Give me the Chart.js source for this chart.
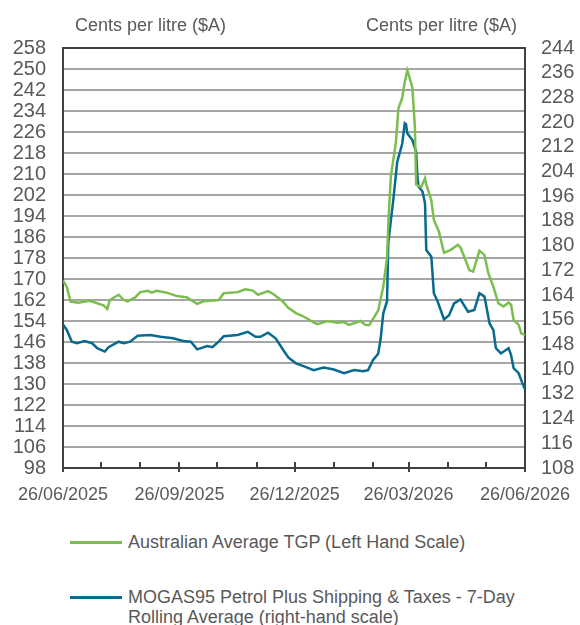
<!DOCTYPE html>
<html>
<head>
<meta charset="utf-8">
<script src="https://cdn.jsdelivr.net/npm/chart.js@4"></script>
<style>
  body { margin: 0; background: #fff; font-family: "Liberation Sans", Arial, sans-serif; color: #595959; }
  #wrap { position: relative; width: 580px; height: 625px; overflow: hidden; }
  #chart { position: absolute; left: 0; top: 0; }
  .unit { position: absolute; top: 15px; font-size: 18px; }
  .leg { position: absolute; left: 70px; font-size: 18px; line-height: 20px; }
  .leg .swatch { position: absolute; left: 0; top: 9px; width: 52px; height: 3px; }
  .leg .txt { margin-left: 58px; width: 420px; }
</style>
</head>
<body>
<div id="wrap">
  <canvas id="chart" width="580" height="520"></canvas>
  <div class="unit" style="left:75px">Cents per litre ($A)</div>
  <div class="unit" style="left:366px">Cents per litre ($A)</div>
  <div class="leg" style="top:532px"><div class="swatch" style="background:#7bbd4e"></div><div class="txt">Australian Average TGP (Left Hand Scale)</div></div>
  <div class="leg" style="top:587px"><div class="swatch" style="background:#086a8f"></div><div class="txt">MOGAS95 Petrol Plus Shipping &amp; Taxes - 7-Day Rolling Average (right-hand scale)</div></div>
</div>
<script>
document.addEventListener("DOMContentLoaded", function () {
  // days after 26/06/2025
  const tgpDays = [0, 3, 6, 12, 21, 32, 35, 37, 44, 48, 51, 57, 61, 67, 70, 74, 82, 90, 98, 106, 111, 123, 127, 138, 144, 150, 154, 162, 166, 173, 178, 184, 189, 198, 201, 209, 217, 222, 226, 235, 239, 242, 245, 249, 253, 256, 257, 259, 263, 265, 268, 270, 272, 273, 276, 278, 279, 283, 286, 287, 291, 293, 297, 301, 306, 312, 314, 317, 321, 324, 326, 329, 333, 336, 340, 344, 348, 352, 354, 356, 360, 362, 365]
  const tgpValues = [169.4, 167, 161.4, 161, 161.7, 160, 158.6, 162, 164, 162, 161.5, 163, 165, 165.5, 164.8, 165.5, 164.8, 163.5, 163, 160.5, 161.5, 162, 164.6, 165, 166.1, 165.6, 164, 165.4, 164.3, 161.7, 159, 157, 156, 153.5, 152.8, 154, 153.3, 153.6, 152.5, 154, 152.5, 152.5, 154.8, 158, 167, 178, 191, 209, 222, 235, 239, 245, 249.5, 248, 243, 228, 206, 205, 208.4, 206, 200, 192.5, 188, 180, 181, 183, 182, 178.5, 173.4, 172.8, 176, 180.8, 179.1, 172.2, 167.1, 160.7, 159.5, 161, 160.2, 154.4, 152.5, 149.3, 148.7]

  const mogasDays = [0, 3, 7, 11, 17, 23, 27, 33, 36, 44, 48, 53, 59, 69, 77, 87, 95, 101, 106, 114, 118, 123, 127, 138, 146, 152, 156, 162, 168, 174, 178, 184, 190, 198, 206, 214, 222, 230, 237, 241, 245, 249, 251, 253, 256, 257, 259, 261, 264, 268, 270, 271, 272, 276, 279, 280, 281, 284, 286, 287, 291, 293, 296, 301, 305, 309, 314, 320, 325, 329, 333, 337, 340, 342, 346, 352, 354, 356, 360, 363, 365]
  const mogasValues = [154.5, 152.7, 148.9, 148.4, 149.1, 148.4, 146.8, 145.7, 147.1, 148.9, 148.4, 148.9, 150.8, 151.1, 150.5, 150, 149.1, 148.9, 146.4, 147.5, 147.1, 148.9, 150.7, 151.1, 152.1, 150.5, 150.5, 151.8, 150, 146.2, 143.8, 141.9, 141, 139.7, 140.5, 139.9, 138.7, 139.7, 139.3, 139.7, 143, 145, 150, 158, 162, 181, 188, 195, 207, 213, 219.6, 219.3, 216.4, 214.2, 210.4, 202.3, 199.1, 197.5, 193.7, 178.6, 176.4, 164.6, 161.9, 156.1, 157.5, 161.3, 162.6, 158.6, 159.2, 164.6, 163.5, 154.8, 152.7, 146.8, 145.1, 146.8, 144.6, 140.3, 138.7, 135.4, 133.5]

  const monthTicks = [0, 30, 61, 92, 122, 153, 183, 214, 245, 273, 304, 334, 365]
  const dateLabels = { 0: "26/06/2025", 92: "26/09/2025", 183: "26/12/2025", 273: "26/03/2026", 365: "26/06/2026" }
  const leftTicks = [98, 106, 114, 122, 130, 138, 146, 154, 162, 170, 178, 186, 194, 202, 210, 218, 226, 234, 242, 250, 258]
  const rightTicks = [108, 116, 124, 132, 140, 148, 156, 164, 172, 180, 188, 196, 204, 212, 220, 228, 236, 244]

  const dark = "#404040"
  const grey = "#a6a6a6"
  const font = "'Liberation Sans', Arial, sans-serif"

  // small tick marks across the date axis
  const tickMarks = {
    id: "tickMarks",
    afterDraw(chart) {
      const xs = chart.scales.x
      const c = chart.ctx
      const bottom = chart.chartArea.bottom
      c.save()
      c.strokeStyle = dark
      c.lineWidth = 2
      monthTicks.forEach((v) => {
        const px = Math.round(xs.getPixelForValue(v))
        const major = dateLabels[v] !== undefined
        c.beginPath()
        c.moveTo(px, bottom - 6)
        c.lineTo(px, major ? bottom + 4 : bottom)
        c.stroke()
      })
      c.restore()
    },
  }

  new Chart(document.getElementById("chart"), {
    type: "line",
    data: {
      datasets: [
        {
          label: "Australian Average TGP (Left Hand Scale)",
          data: tgpDays.map((d, i) => ({ x: d, y: tgpValues[i] })),
          borderColor: "#7bbd4e",
          borderWidth: 2.5,
          yAxisID: "y",
        },
        {
          label: "MOGAS95 Petrol Plus Shipping & Taxes - 7-Day Rolling Average (right-hand scale)",
          data: mogasDays.map((d, i) => ({ x: d, y: mogasValues[i] })),
          borderColor: "#086a8f",
          borderWidth: 2.5,
          yAxisID: "y2",
        },
      ],
    },
    options: {
      responsive: false,
      animation: false,
      layout: { padding: { top: 48 } },
      elements: { point: { radius: 0 }, line: { tension: 0 } },
      plugins: { legend: { display: false }, tooltip: { enabled: false } },
      scales: {
        x: {
          type: "linear",
          min: 0,
          max: 365,
          afterFit: (s) => { s.height = 52 },
          afterBuildTicks: (s) => { s.ticks = monthTicks.map((v) => ({ value: v })) },
          grid: { display: false },
          border: { color: dark, width: 2 },
          ticks: {
            autoSkip: false,
            maxRotation: 0,
            padding: 8,
            color: "#595959",
            font: { family: font, size: 18 },
            callback: (v) => dateLabels[v] || "",
          },
        },
        y: {
          position: "left",
          min: 98,
          max: 258,
          afterFit: (s) => { s.width = 63 },
          afterBuildTicks: (s) => { s.ticks = leftTicks.map((v) => ({ value: v })) },
          grid: {
            drawTicks: false,
            lineWidth: 2,
            color: (ctx) => (ctx.tick && ctx.tick.value === 258 ? dark : grey),
          },
          border: { color: dark, width: 2 },
          ticks: { autoSkip: false, padding: 17, color: "#595959", font: { family: font, size: 20 } },
        },
        y2: {
          position: "right",
          min: 108,
          max: 244,
          afterFit: (s) => { s.width = 55 },
          afterBuildTicks: (s) => { s.ticks = rightTicks.map((v) => ({ value: v })) },
          grid: { display: false, drawTicks: false },
          border: { color: dark, width: 2 },
          ticks: { autoSkip: false, padding: 16, color: "#595959", font: { family: font, size: 20 } },
        },
      },
    },
    plugins: [tickMarks],
  })
})
</script>
</body>
</html>
